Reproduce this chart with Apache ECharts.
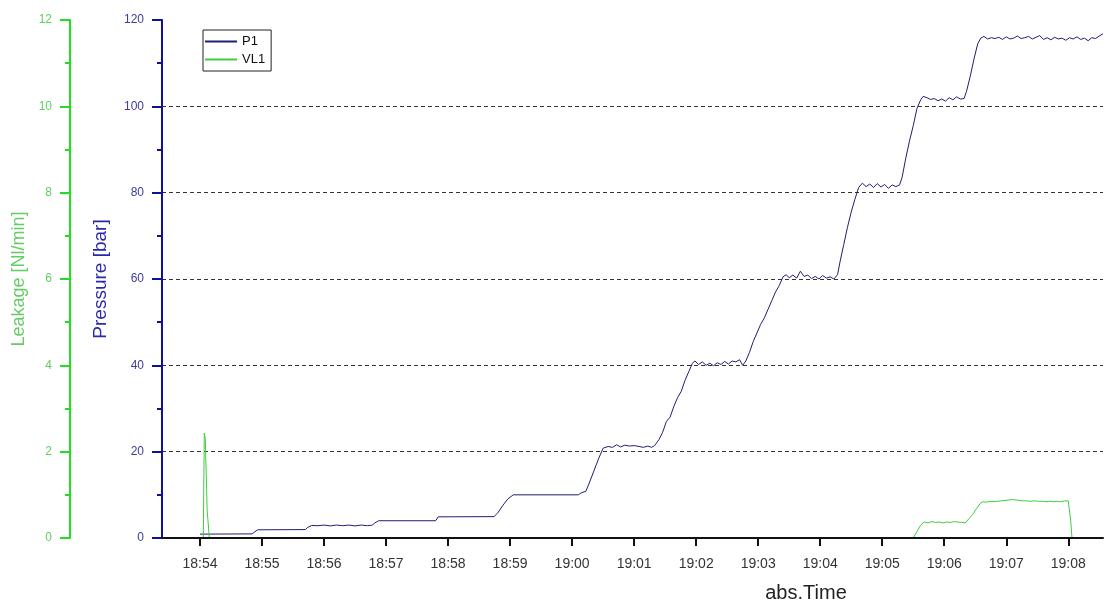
<!DOCTYPE html>
<html>
<head>
<meta charset="utf-8">
<script src="https://cdn.jsdelivr.net/npm/echarts@6/dist/echarts.min.js"></script>
<style>
  html, body { margin: 0; padding: 0; background: #fff; }
  #chart { width: 1107px; height: 607px; }
</style>
</head>
<body>
<div id="chart"></div>
<script>
// time in minutes after 18:54
const tickLabels = ['18:54', '18:55', '18:56', '18:57', '18:58', '18:59', '19:00',
  '19:01', '19:02', '19:03', '19:04', '19:05', '19:06', '19:07', '19:08']

const p1Time = [0.00, 0.05, 0.84, 0.88, 0.93, 1.70, 1.74, 1.80, 1.90, 2.00, 2.10, 2.20, 2.30,
  2.40, 2.50, 2.60, 2.70, 2.78, 2.82, 2.88, 3.80, 3.84, 4.74, 4.80, 4.88, 4.96, 5.05, 6.10,
  6.15, 6.22, 6.27, 6.35, 6.43, 6.50, 6.58, 6.65, 6.72, 6.78, 6.85, 6.92, 7.00, 7.08, 7.15,
  7.22, 7.28, 7.33, 7.40, 7.46, 7.52, 7.58, 7.64, 7.70, 7.76, 7.82, 7.88, 7.94, 7.98, 8.04,
  8.10, 8.16, 8.22, 8.28, 8.34, 8.40, 8.46, 8.52, 8.58, 8.64, 8.70, 8.75, 8.80, 8.86, 8.92,
  8.98, 9.04, 9.10, 9.16, 9.22, 9.28, 9.34, 9.40, 9.45, 9.50, 9.56, 9.62, 9.68, 9.74, 9.80,
  9.86, 9.92, 9.98, 10.04, 10.10, 10.16, 10.22, 10.28, 10.32, 10.38, 10.44, 10.50, 10.56,
  10.62, 10.68, 10.74, 10.80, 10.86, 10.92, 10.98, 11.04, 11.10, 11.16, 11.22, 11.28, 11.32,
  11.38, 11.44, 11.50, 11.56, 11.62, 11.66, 11.72, 11.78, 11.84, 11.90, 11.96, 12.02, 12.08,
  12.14, 12.20, 12.26, 12.32, 12.36, 12.42, 12.48, 12.54, 12.59, 12.64, 12.70, 12.76, 12.82,
  12.88, 12.94, 13.00, 13.06, 13.12, 13.18, 13.24, 13.30, 13.36, 13.42, 13.48, 13.54, 13.60,
  13.66, 13.72, 13.78, 13.84, 13.90, 13.96, 14.02, 14.08, 14.14, 14.20, 14.26, 14.32, 14.38,
  14.44, 14.50, 14.56]
const p1Pressure = [0.9, 0.9, 0.95, 1.4, 1.9, 1.95, 2.5, 2.9, 2.85, 3.0, 2.8, 3.0, 2.85,
  3.0, 2.8, 3.0, 2.85, 3.0, 3.5, 4.0, 4.0, 4.9, 4.95, 5.8, 7.5, 9.0, 10.0, 10.0,
  10.5, 10.8, 12.5, 15.5, 18.5, 20.8, 21.2, 21.0, 21.6, 21.1, 21.5, 21.3, 21.4, 21.2, 21.0,
  21.3, 21.0, 21.4, 22.8, 24.5, 27.0, 28.0, 30.5, 32.5, 34.0, 36.5, 38.5, 40.5, 41.0, 40.2,
  40.8, 40.0, 40.5, 39.9, 40.6, 40.2, 40.9, 40.3, 41.0, 40.8, 41.3, 40.0, 41.0, 43.0, 45.5,
  47.5, 49.5, 51.0, 53.0, 55.0, 57.0, 58.5, 60.5, 61.0, 60.3, 60.9, 60.2, 61.8, 60.6, 60.9,
  60.1, 60.6, 60.0, 60.8, 60.2, 60.5, 60.0, 61.0, 64.0, 68.0, 72.0, 75.5, 78.5,
  81.2, 82.2, 81.4, 82.0, 81.2, 82.1, 81.3, 81.9, 81.0, 81.8, 81.4, 81.8, 83.5,
  88.0, 92.0, 95.5, 99.5, 101.5, 102.3, 102.0, 101.6, 101.8, 101.3, 101.7, 101.2, 102.0,
  101.5, 102.2, 101.7, 101.8, 103.5, 107.0, 111.0, 114.5, 115.8, 116.2, 115.6, 115.9, 115.7,
  116.0, 115.5, 116.1, 115.6, 115.8, 116.3, 115.7, 115.9, 116.2, 115.6, 116.0, 116.4, 115.5,
  115.9, 115.4, 116.0, 115.6, 115.8, 115.3, 115.9, 115.6, 116.1, 115.5, 115.8, 115.2, 115.9,
  115.7, 116.3, 116.8]

const vl1Time = [0.00, 0.053, 0.069, 0.085, 0.115, 0.15, 11.50, 11.56, 11.62, 11.68, 11.74,
  11.80, 11.86, 11.92, 11.98, 12.04, 12.10, 12.16, 12.22, 12.28, 12.34, 12.40, 12.46, 12.52,
  12.58, 12.62, 12.68, 12.74, 12.80, 12.86, 12.92, 12.98, 13.04, 13.10, 13.16, 13.22, 13.28,
  13.34, 13.40, 13.46, 13.52, 13.58, 13.64, 13.70, 13.76, 13.82, 13.88, 13.94, 14.00, 14.03,
  14.04, 14.06]
const vl1Leakage = [0, 0, 2.43, 2.3, 0.65, 0, 0, 0.15, 0.3, 0.37, 0.35,
  0.38, 0.36, 0.37, 0.35, 0.37, 0.36, 0.38, 0.37, 0.36, 0.35, 0.45, 0.55, 0.68,
  0.80, 0.84, 0.83, 0.85, 0.84, 0.85, 0.86, 0.87, 0.88, 0.89, 0.88, 0.87, 0.86,
  0.86, 0.85, 0.86, 0.85, 0.85, 0.84, 0.85, 0.84, 0.85, 0.84, 0.86, 0.86, 0.84,
  0.38, 0]

const blue = '#10109a'
const green = '#22dd22'
const font = 'Arial, "Liberation Sans", sans-serif'

const chart = echarts.init(document.getElementById('chart'))
chart.setOption({
  animation: false,
  grid: { left: 162, right: 4, top: 20, bottom: 69, outerBoundsMode: 'none' },
  legend: {
    orient: 'vertical',
    left: 203,
    top: 30,
    padding: [4, 6, 4, 2],
    itemGap: 3,
    itemWidth: 32,
    itemHeight: 2,
    icon: 'rect',
    borderColor: '#222',
    borderWidth: 1,
    borderRadius: 0,
    textStyle: { fontFamily: font, fontSize: 13, color: '#111', lineHeight: 15 },
    data: ['P1', 'VL1'],
  },
  graphic: [{
    type: 'text',
    x: 806,
    y: 593,
    style: { text: 'abs.Time', font: '20px ' + font, fill: '#222', align: 'center', verticalAlign: 'middle' },
  }],
  xAxis: {
    type: 'value',
    min: -0.613,
    max: 14.56,
    z: 5,
    axisLine: { onZero: false, lineStyle: { color: '#111', width: 2 } },
    axisTick: { customValues: tickLabels.map((_, i) => i), length: 8, lineStyle: { color: '#111', width: 2 } },
    axisLabel: {
      customValues: tickLabels.map((_, i) => i),
      formatter: v => tickLabels[Math.round(v)],
      margin: 19,
      fontFamily: font,
      fontSize: 14,
      color: '#333',
    },
    splitLine: { show: false },
  },
  yAxis: [
    {
      type: 'value',
      min: 0,
      max: 120,
      interval: 20,
      position: 'left',
      name: 'Pressure [bar]',
      nameLocation: 'middle',
      nameGap: 52,
      nameTextStyle: { fontFamily: font, fontSize: 19, color: '#2a2aa8' },
      axisLine: { show: true, onZero: false, lineStyle: { color: blue, width: 2 } },
      axisTick: { show: true, length: 10, lineStyle: { color: blue, width: 2 } },
      minorTick: { show: true, splitNumber: 2, length: 5, lineStyle: { color: blue, width: 2 } },
      axisLabel: { margin: 18, fontFamily: font, fontSize: 12, color: '#3b3b9e' },
      splitLine: {
        show: true,
        showMinLine: false,
        showMaxLine: false,
        lineStyle: { color: '#333', type: [4, 3], width: 1 },
      },
    },
    {
      type: 'value',
      min: 0,
      max: 12,
      interval: 2,
      position: 'left',
      offset: 92,
      name: 'Leakage [Nl/min]',
      nameLocation: 'middle',
      nameGap: 40,
      nameTextStyle: { fontFamily: font, fontSize: 18, color: '#66cc66' },
      axisLine: { show: true, onZero: false, lineStyle: { color: green, width: 2 } },
      axisTick: { show: true, length: 10, lineStyle: { color: green, width: 2 } },
      minorTick: { show: true, splitNumber: 2, length: 5, lineStyle: { color: green, width: 2 } },
      axisLabel: { margin: 18, fontFamily: font, fontSize: 12, color: '#5fcf5f' },
      splitLine: { show: false },
    },
  ],
  series: [
    {
      name: 'P1',
      type: 'line',
      yAxisIndex: 0,
      symbol: 'none',
      color: '#1e1e72',
      lineStyle: { width: 1 },
      data: p1Time.map((t, i) => [t, p1Pressure[i]]),
    },
    {
      name: 'VL1',
      type: 'line',
      yAxisIndex: 1,
      symbol: 'none',
      color: '#3fcc3f',
      lineStyle: { width: 1 },
      data: vl1Time.map((t, i) => [t, vl1Leakage[i]]),
    },
  ],
})
</script>
</body>
</html>
